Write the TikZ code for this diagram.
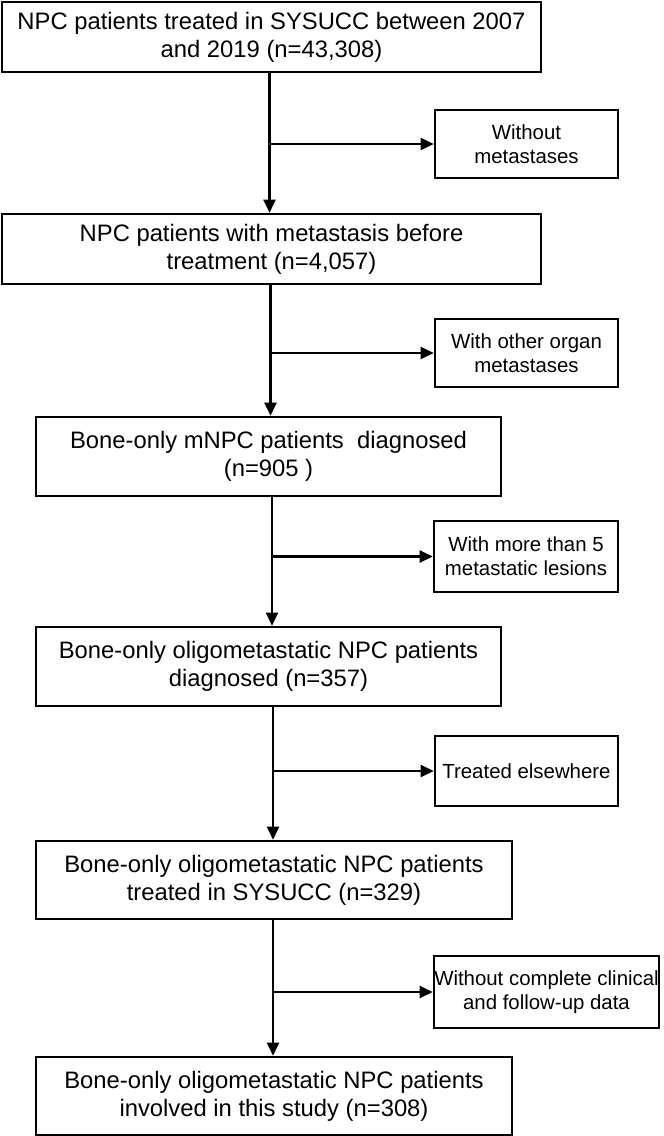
\documentclass[tikz,border=0pt]{standalone}
\usepackage{fontspec}
\setmainfont{Liberation Sans}
\usetikzlibrary{arrows.meta,calc}
\begin{document}
\begin{tikzpicture}[x=1pt,y=1pt,
  mainbox/.style={draw=black,line width=2.6pt,inner sep=0pt,align=center,
    font=\fontsize{23.8}{28}\selectfont},
  sidebox/.style={draw=black,line width=2.6pt,inner sep=0pt,align=center,
    font=\fontsize{20.4}{24}\selectfont},
  arr/.style={line width=2.3pt,-{Triangle[length=13pt,width=12pt]}}]
\useasboundingbox (0,0) rectangle (664,-1136);
% main column
\node[mainbox,minimum width=539pt,minimum height=70pt] (n1) at (271.5,-37)
  {NPC patients treated in SYSUCC between 2007\\and 2019 (n=43,308)};
\node[mainbox,minimum width=539pt,minimum height=70pt] (n2) at (271.5,-249)
  {NPC patients with metastasis before\\treatment (n=4,057)};
\node[mainbox,minimum width=465pt,minimum height=79pt] (n3) at (268.5,-456.5)
  {Bone-only mNPC patients\ \ diagnosed\\(n=905\ )};
\node[mainbox,minimum width=465pt,minimum height=79pt] (n4) at (268.5,-666.5)
  {Bone-only oligometastatic NPC patients\\diagnosed (n=357)};
\node[mainbox,minimum width=476pt,minimum height=78pt] (n5) at (274,-880)
  {Bone-only oligometastatic NPC patients\\treated in SYSUCC (n=329)};
\node[mainbox,minimum width=476pt,minimum height=78pt] (n6) at (274,-1096)
  {Bone-only oligometastatic NPC patients\\involved in this study (n=308)};
% side boxes
\node[sidebox,minimum width=183pt,minimum height=68pt] (s1) at (526.5,-144)
  {Without\\metastases};
\node[sidebox,minimum width=183pt,minimum height=68pt] (s2) at (526.5,-353)
  {With other organ\\metastases};
\node[sidebox,minimum width=184pt,minimum height=71pt] (s3) at (526,-556.5)
  {With more than 5\\metastatic lesions};
\node[sidebox,minimum width=183pt,minimum height=70pt] (s4) at (526.5,-771)
  {Treated elsewhere};
\node[sidebox,minimum width=225pt,minimum height=72pt] (s5) at (546.5,-992)
  {Without complete clinical\\and follow-up data};
% vertical line positions
\coordinate (c1) at (269.5,0);
\coordinate (c2) at (270.5,0);
\coordinate (c3) at (272,0);
\coordinate (c4) at (273,0);
\coordinate (c5) at (273,0);
% vertical arrows
\draw[arr] (n1.south -| c1) -- (n2.north -| c1);
\draw[arr] (n2.south -| c2) -- (n3.north -| c2);
\draw[arr] (n3.south -| c3) -- (n4.north -| c3);
\draw[arr] (n4.south -| c4) -- (n5.north -| c4);
\draw[arr] (n5.south -| c5) -- (n6.north -| c5);
% branch arrows
\draw[arr] (s1.west -| c1) -- (s1.west);
\draw[arr] (s2.west -| c2) -- (s2.west);
\draw[arr] (s3.west -| c3) -- (s3.west);
\draw[arr] (s4.west -| c4) -- (s4.west);
\draw[arr] (s5.west -| c5) -- (s5.west);
\end{tikzpicture}
\end{document}
